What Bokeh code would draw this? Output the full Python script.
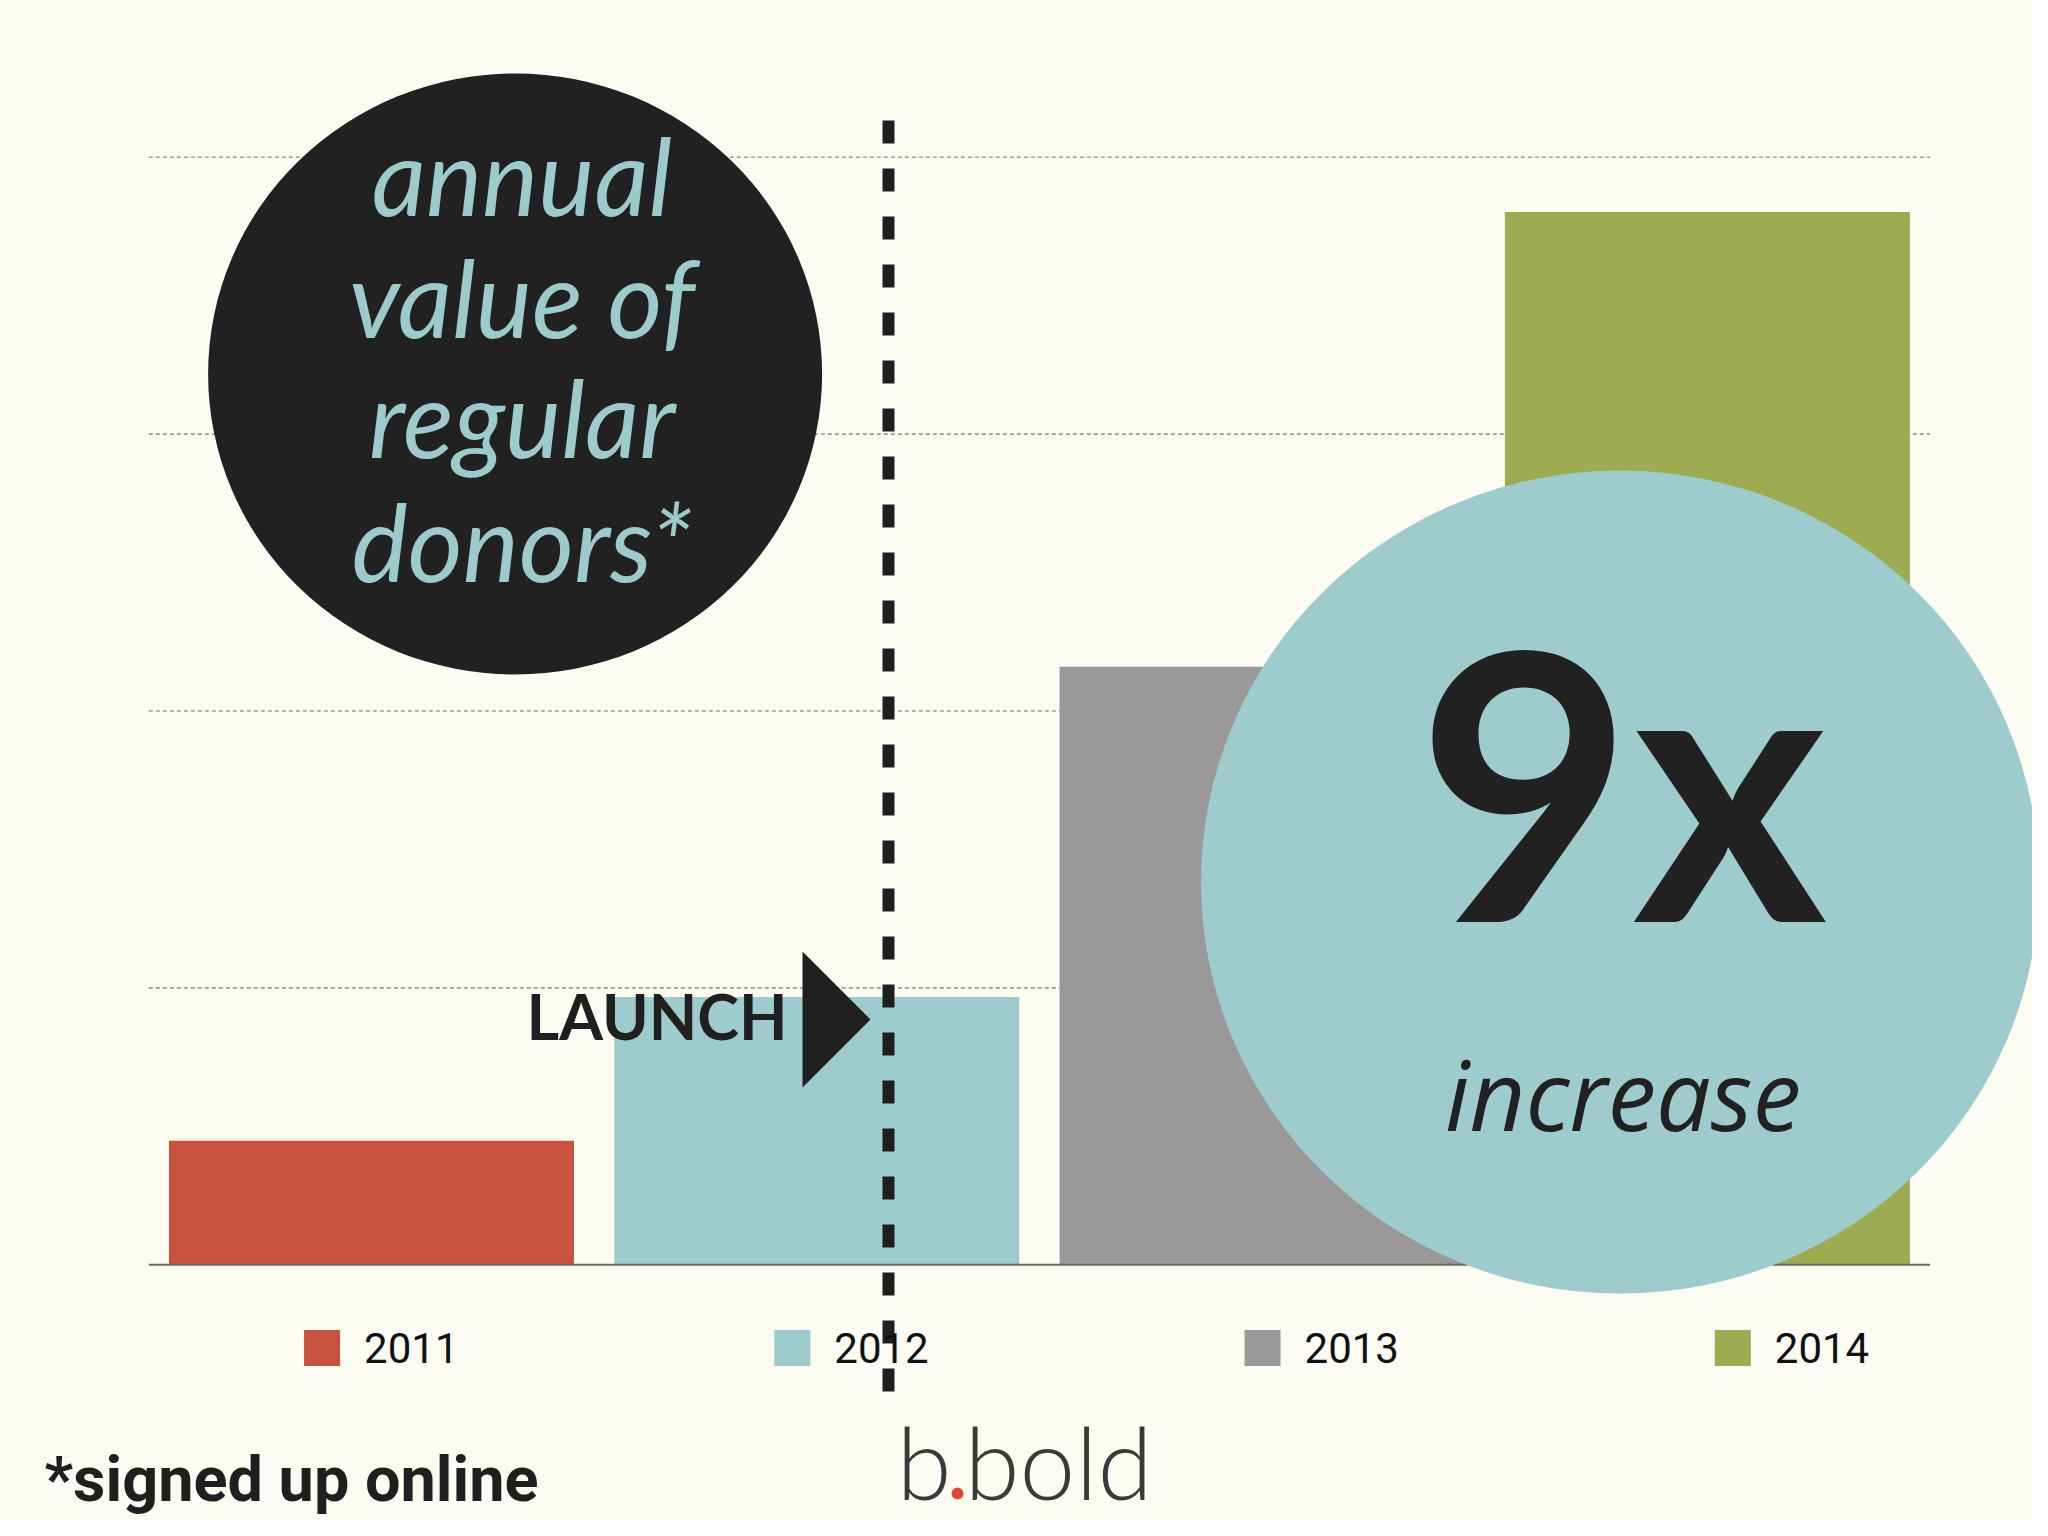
from bokeh.plotting import figure
from bokeh.models import Range1d
from bokeh.core.properties import value
from bokeh.embed import file_html
from bokeh.resources import INLINE

# ---- data ----
years = ["2011", "2012", "2013", "2014"]
values = [0.448, 0.967, 2.160, 3.802]
bar_colors = ["#c9523f", "#9ecbcb", "#9a9899", "#9dab52"]
grid_values = [1, 2, 3, 4]
title_lines = ["annual", "value of", "regular", "donors*"]
headline = "9x"
headline_sub = "increase"
launch_label = "LAUNCH"
launch_position = 1.161          # x position of the launch marker
footnote = "*signed up online"

# ---- layout constants ----
BG = "#fcfcf2"
PX_X = 445.3      # screen px per x unit
PX_Y = 276.9      # screen px per y unit
W, H = 2032, 1520
BASE_SHIFT = 0.385   # baseline correction (fraction of font size)

def dx(px):
    return px / PX_X

def dy(px):
    return px / PX_Y

def base(offset, size):
    return offset - BASE_SHIFT * size

x_start = dx(0 - 371)
y_end = dy(1264.3 - 0)

p = figure(width=W, height=H, output_backend="svg", toolbar_location=None,
           x_range=Range1d(x_start, x_start + dx(W)),
           y_range=Range1d(y_end - dy(H), y_end),
           x_axis_location=None, y_axis_location=None,
           min_border=0, min_border_left=0, min_border_right=0,
           min_border_top=0, min_border_bottom=0)
p.grid.visible = False
p.outline_line_color = None
p.background_fill_color = BG
p.border_fill_color = BG

n = len(years)
idx = list(range(n))
x_left = -0.5
x_right = n - 0.5

# dotted grid lines
p.segment(x0=[x_left] * len(grid_values), x1=[x_right] * len(grid_values),
          y0=grid_values, y1=grid_values,
          line_color="#9c9c9c", line_width=1.6, line_dash="4 3")

# black title circle
circ1_x = dx(514.6 - 371)
circ1_y = dy(1264.3 - 373.5)
p.ellipse(x=[circ1_x], y=[circ1_y], width=[614], height=[601],
          width_units="screen", height_units="screen",
          fill_color="#212121", line_color=None)
p.text(x=[circ1_x] * 4, y=[circ1_y] * 4, text=title_lines,
       x_offset=7, y_offset=[base(o, 106) for o in (-158, -36, 84, 208)],
       text_font=value("Lato"), text_font_style="italic",
       text_font_size="106px", text_color="#9dcacb",
       text_align="center", text_baseline="alphabetic")

# bars
p.vbar(x=idx, top=values, bottom=0, width=0.9095, fill_color=bar_colors,
       line_color=None)

# baseline
p.segment(x0=[x_left], x1=[x_right], y0=[0], y1=[0],
          line_color="#6a6a6a", line_width=2)

# launch dashed line
p.segment(x0=[launch_position], x1=[launch_position],
          y0=[dy(1264.3 - 120)], y1=[dy(1264.3 - 1391)],
          line_color="#1f1f1f", line_width=12, line_dash="23 25")

# launch triangle + label
ly = dy(1264.3 - 1019)
p.patch(x=[launch_position - dx(86), launch_position - dx(86), launch_position - dx(18)],
        y=[ly + dy(68), ly - dy(68), ly],
        fill_color="#1f1f1f", line_color=None)
p.text(x=[launch_position - dx(105)], y=[ly], text=[launch_label],
       x_offset=4, y_offset=base(21, 64),
       text_font=value("Lato"), text_font_style="bold",
       text_font_size="63px", text_color="#1f1f1f",
       text_align="right", text_baseline="alphabetic")

# teal headline circle
circ2_x = dx(1619.5 - 371)
circ2_y = dy(1264.3 - 881.6)
p.ellipse(x=[circ2_x], y=[circ2_y], width=[838], height=[823],
          width_units="screen", height_units="screen",
          fill_color="#9ecbcb", line_color=None)
p.text(x=[circ2_x], y=[circ2_y], text=[headline],
       x_offset=2, y_offset=base(39, 372),
       text_font=value("Lato"), text_font_style="bold",
       text_font_size="372px", text_color="#212121",
       text_align="center", text_baseline="alphabetic")
p.text(x=[circ2_x], y=[circ2_y], text=[headline_sub],
       x_offset=3, y_offset=base(248, 97),
       text_font=value("Open Sans"), text_font_style="italic",
       text_font_size="97px", text_color="#212121",
       text_align="center", text_baseline="alphabetic")

# legend
legend_x = [i * 1.056 - 0.111 for i in idx]
legend_y = dy(1264.3 - 1347.5)
p.scatter(x=legend_x, y=[legend_y] * n, marker="square", size=36,
          fill_color=bar_colors, line_color=None)
p.text(x=legend_x, y=[legend_y] * n, text=years, x_offset=42, y_offset=0,
       text_font=value("Roboto"),
       text_font_size="42px", text_color="#111111",
       text_align="left", text_baseline="middle")

# footnote
p.text(x=[dx(44 - 371)], y=[dy(1264.3 - 1503)], text=[footnote],
       y_offset=base(0, 63),
       text_font=value("Roboto"), text_font_style="bold",
       text_font_size="63px", text_color="#1f1f1f",
       text_align="left", text_baseline="alphabetic")

# logo
logo_x = dx(957 - 371)
logo_y = dy(1264.3 - 1499)
p.text(x=[logo_x], y=[logo_y], text=["b"], x_offset=-6, y_offset=base(0, 100),
       text_font=value("Lato Light, Lato"), text_font_size="100px",
       text_color="#3a3a3a", text_align="right", text_baseline="alphabetic")
p.text(x=[logo_x], y=[logo_y], text=["bold"], x_offset=7, y_offset=base(0, 100),
       text_font=value("Lato Light, Lato"), text_font_size="100px",
       text_color="#3a3a3a", text_align="left", text_baseline="alphabetic")
p.scatter(x=[logo_x], y=[logo_y + dy(6)], marker="circle", size=12,
          fill_color="#e0473a", line_color=None)

open("out.html", "w").write(file_html(p, INLINE))
